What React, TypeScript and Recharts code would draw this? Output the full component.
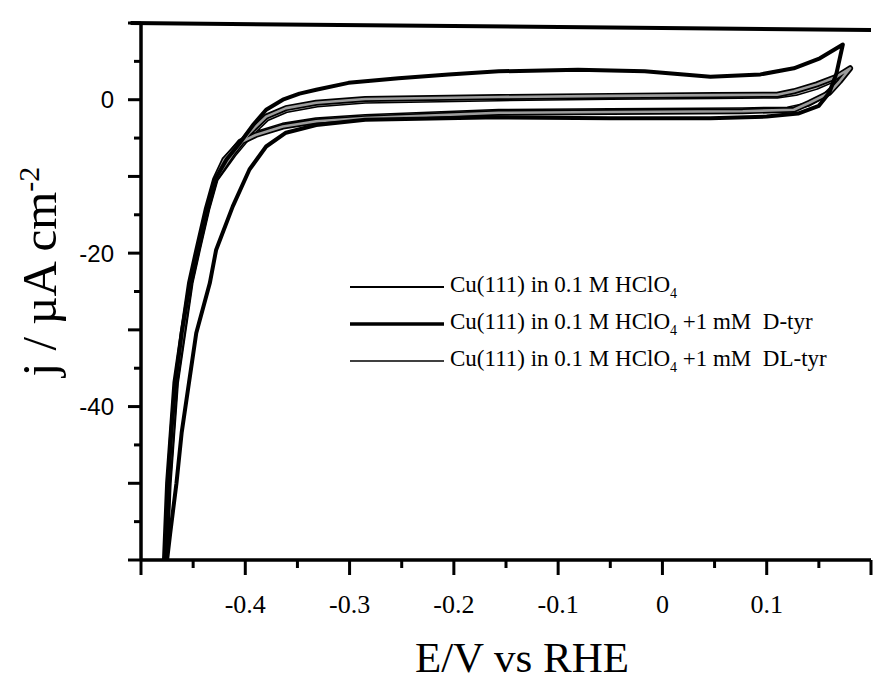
import React from "react";
import { LineChart, Line, XAxis, YAxis, ReferenceLine, Legend, Label } from "recharts";

// Cu(111) in 0.1 M HClO4 (outer loop)
const hclo4E = [-0.477, -0.474, -0.471, -0.467, -0.461, -0.453, -0.446, -0.437, -0.429, -0.418, -0.405, -0.392, -0.38, -0.364, -0.348, -0.332, -0.301, -0.253, -0.205, -0.157, -0.081, -0.017, 0.046, 0.094, 0.126, 0.151, 0.173, 0.167, 0.16, 0.15, 0.13, 0.1, 0.046, -0.05, -0.157, -0.285, -0.332, -0.361, -0.38, -0.396, -0.412, -0.428, -0.434, -0.447, -0.454, -0.461, -0.466, -0.472, -0.475];
const hclo4J = [-60, -50, -43.4, -36.9, -30.4, -23.9, -19.6, -14.3, -10.4, -7.8, -5.6, -3.2, -1.3, 0, 0.8, 1.3, 2.2, 2.8, 3.3, 3.7, 3.9, 3.7, 3.0, 3.3, 4.1, 5.4, 7.2, 3.5, 0.9, -0.8, -1.8, -2.2, -2.4, -2.4, -2.3, -2.6, -3.3, -4.3, -6.1, -9.1, -13.9, -19.6, -23.9, -30.4, -36.9, -43.4, -50, -56.5, -60];

// + 1 mM D-tyr
const dtyrE = [-0.477, -0.474, -0.467, -0.453, -0.446, -0.437, -0.429, -0.412, -0.396, -0.38, -0.361, -0.332, -0.285, -0.157, -0.05, 0.05, 0.11, 0.126, 0.148, 0.167, 0.18, 0.17, 0.16, 0.141, 0.126, 0.077, -0.05, -0.157, -0.285, -0.332, -0.364, -0.39, -0.405, -0.42, -0.429];
const dtyrJ = [-60, -50, -36.9, -23.9, -19.6, -14.3, -10.4, -7.0, -4.3, -2.2, -1.1, -0.4, 0.1, 0.35, 0.5, 0.6, 0.65, 1.1, 2.0, 3.0, 4.1, 2.4, 0.9, -0.4, -1.3, -1.5, -1.6, -1.7, -2.4, -2.8, -3.5, -4.6, -5.6, -7.8, -10.4];

// + 1 mM DL-tyr
const dltyrE = [-0.476, -0.473, -0.466, -0.452, -0.445, -0.436, -0.428, -0.411, -0.395, -0.379, -0.36, -0.331, -0.285, -0.157, -0.05, 0.05, 0.11, 0.128, 0.148, 0.165, 0.172, 0.165, 0.155, 0.14, 0.12, 0.077, -0.05, -0.157, -0.285, -0.332, -0.364, -0.39, -0.405, -0.418, -0.428];
const dltyrJ = [-60, -50, -36.9, -23.9, -19.6, -14.3, -10.4, -7.2, -4.6, -2.5, -1.4, -0.7, -0.2, 0.1, 0.3, 0.4, 0.45, 0.8, 1.6, 2.6, 3.4, 1.8, 0.5, -0.6, -1.2, -1.3, -1.4, -1.5, -2.2, -2.6, -3.3, -4.4, -5.4, -7.5, -10.2];

const xTicks = [-0.5, -0.45, -0.4, -0.35, -0.3, -0.25, -0.2, -0.15, -0.1, -0.05, 0, 0.05, 0.1, 0.15, 0.2];
const xTickLabels = [-0.4, -0.3, -0.2, -0.1, 0, 0.1];
const yTicks = [-60, -55, -50, -45, -40, -35, -30, -25, -20, -15, -10, -5, 0, 5, 10];
const yTickLabels = [0, -20, -40];

const legendSuffix = ["", " +1 mM  D-tyr", " +1 mM  DL-tyr"];
const legendWidths = [2.2, 3.6, 1.3];

const zip = (e: number[], j: number[]) => e.map((v, i) => ({ e: v, j: j[i] }));
const hclo4Data = zip(hclo4E, hclo4J);
const dtyrData = zip(dtyrE, dtyrJ);
const dltyrData = zip(dltyrE, dltyrJ);

const SERIF = "'Liberation Serif', 'Times New Roman', serif";
const SANS = "'Liberation Sans', Arial, sans-serif";

const near = (a: number, b: number) => Math.abs(a - b) < 1e-6;

const XTick = (props: any) => {
  const { x, y, payload } = props;
  const v = payload.value;
  const major = near(v * 10, Math.round(v * 10));
  const labeled = xTickLabels.some((t) => near(t, v));
  return (
    <g>
      <line x1={x} y1={y} x2={x} y2={y + (major ? 15 : 8)} stroke="#000" strokeWidth={3} />
      {labeled && (
        <text x={x} y={y + 53} textAnchor="middle" fontFamily={SERIF} fontSize={26} fill="#000">
          {v === 0 ? "0" : v.toFixed(1)}
        </text>
      )}
    </g>
  );
};

const YTick = (props: any) => {
  const { x, y, payload } = props;
  const v = payload.value;
  const major = v % 10 === 0;
  const labeled = yTickLabels.includes(v);
  return (
    <g>
      <line x1={x} y1={y} x2={x - (major ? 13 : 7)} y2={y} stroke="#000" strokeWidth={3} />
      {labeled && (
        <text x={x - 27} y={y} dy="0.36em" textAnchor="end" fontFamily={SANS} fontSize={24} fill="#000">
          {v}
        </text>
      )}
    </g>
  );
};

const YTitle = (props: any) => {
  const { viewBox } = props;
  const cx = viewBox.x - 101;
  const cy = viewBox.y + viewBox.height / 2 - 20;
  return (
    <text x={cx} y={cy} transform={`rotate(-90, ${cx}, ${cy})`} textAnchor="middle" dy="0.35em" fontFamily={SERIF} fontSize={49} fill="#000">
      j / µA cm<tspan dy={-17} fontSize={30}>-2</tspan>
    </text>
  );
};

const XTitle = (props: any) => {
  const { viewBox } = props;
  return (
    <text x={viewBox.x + viewBox.width / 2 + 16} y={viewBox.y + 112} textAnchor="middle" fontFamily={SERIF} fontSize={43} fill="#000">
      E/V vs RHE
    </text>
  );
};

const LegendBox = () => (
  <div style={{ fontFamily: SERIF, fontSize: 23, color: "#000" }}>
    {legendSuffix.map((s, i) => (
      <div key={i} style={{ display: "flex", alignItems: "center", height: 37 }}>
        <svg width={96} height={10} style={{ marginRight: 4 }}>
          <line x1={0} y1={5} x2={94} y2={5} stroke="#000" strokeWidth={legendWidths[i]} />
        </svg>
        <span style={{ whiteSpace: "pre" }}>
          Cu(111) in 0.1 M HClO<sub style={{ fontSize: 14 }}>4</sub>
          {s}
        </span>
      </div>
    ))}
  </div>
);

export default function App() {
  return (
    <div style={{ position: "absolute", left: 0, top: 0, width: 873, height: 685, background: "#fff" }}>
      <LineChart width={873} height={685} margin={{ top: 23, right: 2, bottom: 124, left: 140 }}>
        <XAxis
          type="number"
          dataKey="e"
          domain={[-0.5, 0.2]}
          ticks={xTicks}
          interval={0}
          allowDataOverflow
          height={1}
          tickSize={0}
          tickMargin={0}
          tickLine={false}
          tick={<XTick />}
          axisLine={{ stroke: "#000", strokeWidth: 3.5 }}
        >
          <Label content={<XTitle />} />
        </XAxis>
        <YAxis
          type="number"
          domain={[-60, 10]}
          ticks={yTicks}
          interval={0}
          allowDataOverflow
          width={1}
          tickSize={0}
          tickMargin={0}
          tickLine={false}
          tick={<YTick />}
          axisLine={{ stroke: "#000", strokeWidth: 3.5 }}
        >
          <Label content={<YTitle />} />
        </YAxis>
        <ReferenceLine
          segment={[{ x: -0.51, y: 10 }, { x: 0.2, y: 9.1 }]}
          stroke="#000"
          strokeWidth={4}
          ifOverflow="visible"
        />
        <Legend
          layout="vertical"
          align="center"
          verticalAlign="middle"
          content={<LegendBox />}
          wrapperStyle={{ left: 350, top: 268, width: 520 }}
        />
        <Line data={dltyrData} dataKey="j" type="linear" dot={false} stroke="#000" strokeWidth={5} strokeLinejoin="round" isAnimationActive={false} legendType="none" />
        <Line data={dltyrData} dataKey="j" type="linear" dot={false} stroke="#b4b4b4" strokeWidth={2} strokeLinejoin="round" isAnimationActive={false} legendType="none" />
        <Line data={dtyrData} dataKey="j" type="linear" dot={false} stroke="#000" strokeWidth={6} strokeLinejoin="round" isAnimationActive={false} legendType="none" />
        <Line data={dtyrData} dataKey="j" type="linear" dot={false} stroke="#9c9c9c" strokeWidth={2.6} strokeLinejoin="round" isAnimationActive={false} legendType="none" />
        <Line data={hclo4Data} dataKey="j" type="linear" dot={false} stroke="#000" strokeWidth={4} strokeLinejoin="round" isAnimationActive={false} legendType="none" />
      </LineChart>
    </div>
  );
}
